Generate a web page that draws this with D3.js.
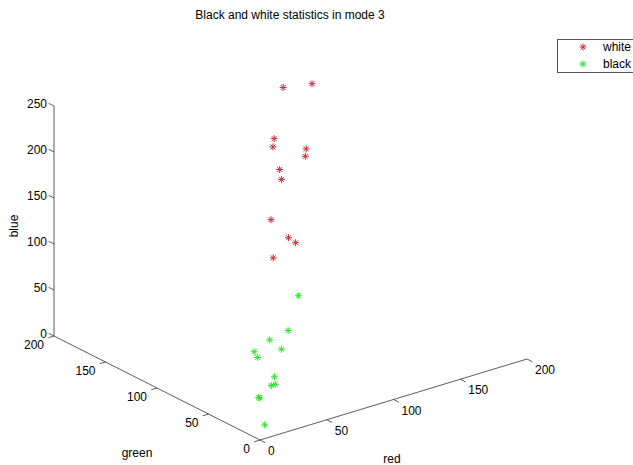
<!DOCTYPE html>
<html>
<head>
<meta charset="utf-8">
<script src="https://cdn.jsdelivr.net/npm/d3@7"></script>
<style>
  body { margin: 0; background: #fff; }
  svg { display: block; font-family: "Liberation Sans", Arial, sans-serif; }
</style>
</head>
<body>
<script>
// white samples (red, green, blue)
var whiteRed   = [167, 184, 141, 137, 155, 152, 132, 128, 107, 107, 110, 94];
var whiteGreen = [194, 188, 169, 165, 156, 153, 152, 145, 128, 111, 108, 109];
var whiteBlue  = [200, 200, 170, 165, 160, 155, 150, 145, 120, 110, 105, 95];

// black samples
var blackRed   = [92, 72, 59, 60, 45, 43, 44, 40, 37, 26, 27, 12];
var blackGreen = [82, 66, 67, 57, 64, 58, 43, 37, 37, 35, 35, 11];
var blackBlue  = [70, 50, 45, 40, 40, 38, 25, 22, 22, 15, 14, 5];

var redTicks   = [0, 50, 100, 150, 200];
var greenTicks = [0, 50, 100, 150, 200];
var blueTicks  = [0, 50, 100, 150, 200, 250];

var width = 633, height = 465;
var origin = [260, 440];

// each channel maps to a 2D screen offset (orthographic view)
var red   = d3.scaleLinear().domain([0, 200]).range([[0, 0], [267, -81]]);
var green = d3.scaleLinear().domain([0, 200]).range([[0, 0], [-206, -104]]);
var blue  = d3.scaleLinear().domain([0, 250]).range([[0, 0], [0, -230]]);

function project (r, g, b) {
    var a = red(r), c = green(g), e = blue(b);
    return [origin[0] + a[0] + c[0] + e[0], origin[1] + a[1] + c[1] + e[1]];
}

function unit (v) {
    var l = Math.sqrt(v[0] * v[0] + v[1] * v[1]);
    return [v[0] / l, v[1] / l];
}

var redDir = unit(red(200)), greenDir = unit(green(200));
var tickLen = 6;

var svg = d3.select("body").append("svg")
    .attr("width", width)
    .attr("height", height);

var axisColor = "#333";

// axis lines
function line (p, q) {
    svg.append("line")
        .attr("x1", p[0]).attr("y1", p[1])
        .attr("x2", q[0]).attr("y2", q[1])
        .attr("stroke", axisColor)
        .attr("stroke-width", 0.8);
}

line(project(0, 0, 0), project(200, 0, 0));
line(project(0, 0, 0), project(0, 200, 0));
line(project(0, 200, 0), project(0, 200, 250));

// red axis ticks point away from the green direction
redTicks.forEach(function (t) {
    var p = project(t, 0, 0);
    line(p, [p[0] - greenDir[0] * tickLen, p[1] - greenDir[1] * tickLen]);
    svg.append("text")
        .attr("x", p[0] + 8).attr("y", p[1] + 11)
        .attr("dy", "0.35em")
        .attr("font-size", 12)
        .text(t);
});

// green axis ticks
greenTicks.forEach(function (t) {
    var p = project(0, t, 0);
    line(p, [p[0] - redDir[0] * tickLen, p[1] - redDir[1] * tickLen]);
    svg.append("text")
        .attr("x", p[0] - 10).attr("y", p[1] + 9)
        .attr("dy", "0.35em")
        .attr("text-anchor", "end")
        .attr("font-size", 12)
        .text(t);
});

// blue axis ticks
blueTicks.forEach(function (t) {
    var p = project(0, 200, t);
    line(p, [p[0] + greenDir[0] * tickLen, p[1] + greenDir[1] * tickLen]);
    svg.append("text")
        .attr("x", p[0] - 7).attr("y", p[1] - 2)
        .attr("dy", "0.35em")
        .attr("text-anchor", "end")
        .attr("font-size", 12)
        .text(t);
});

// axis labels
svg.append("text")
    .attr("x", 392).attr("y", 459).attr("dy", "0.35em")
    .attr("text-anchor", "middle").attr("font-size", 12)
    .text("red");
svg.append("text")
    .attr("x", 137).attr("y", 453).attr("dy", "0.35em")
    .attr("text-anchor", "middle").attr("font-size", 12)
    .text("green");
svg.append("text")
    .attr("transform", "translate(14,226) rotate(-90)")
    .attr("dy", "0.35em")
    .attr("text-anchor", "middle").attr("font-size", 12)
    .text("blue");

svg.append("text")
    .attr("x", 290).attr("y", 15).attr("dy", "0.35em")
    .attr("text-anchor", "middle").attr("font-size", 12)
    .text("Black and white statistics in mode 3");

// asterisk marker
var star = "M-3.5,0H3.5M0,-3.5V3.5M-2.5,-2.5L2.5,2.5M-2.5,2.5L2.5,-2.5";
var whiteColor = "#c8303c", blackColor = "#2ee02e";

function plotSeries (rs, gs, bs, color) {
    svg.append("g").selectAll("path")
        .data(d3.range(rs.length))
    .enter().append("path")
        .attr("d", star)
        .attr("transform", function (i) {
            var p = project(rs[i], gs[i], bs[i]);
            return "translate(" + p[0] + "," + p[1] + ")";
        })
        .attr("fill", "none")
        .attr("stroke", color)
        .attr("stroke-width", 1);
}

plotSeries(whiteRed, whiteGreen, whiteBlue, whiteColor);
plotSeries(blackRed, blackGreen, blackBlue, blackColor);

// legend
var legend = svg.append("g");
legend.append("rect")
    .attr("x", 557.5).attr("y", 39.5)
    .attr("width", 90).attr("height", 33)
    .attr("fill", "#fff")
    .attr("stroke", "#555")
    .attr("stroke-width", 1);

[["white", whiteColor], ["black", blackColor]].forEach(function (d, i) {
    var y = 47 + i * 17;
    legend.append("path")
        .attr("d", star)
        .attr("transform", "translate(583," + y + ")")
        .attr("fill", "none")
        .attr("stroke", d[1]);
    legend.append("text")
        .attr("x", 603).attr("y", y).attr("dy", "0.35em")
        .attr("font-size", 12)
        .text(d[0]);
});
</script>
</body>
</html>
